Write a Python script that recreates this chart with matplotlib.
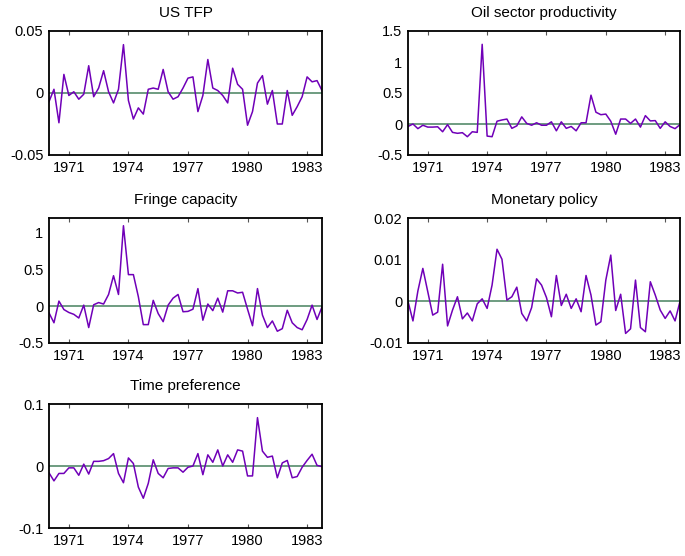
import numpy as np
import matplotlib
matplotlib.use("Agg")
import matplotlib.pyplot as plt

plt.rcParams['font.family'] = ['Liberation Sans', 'DejaVu Sans']

# quarterly dates 1970Q1 - 1983Q4
dates = 1970 + np.arange(56) * 0.25

us_tfp = [-0.007, 0.003, -0.024, 0.015, -0.002, 0.001, -0.005, -0.001, 0.022, -0.003,
          0.004, 0.018, 0.001, -0.008, 0.003, 0.039, -0.006, -0.021, -0.012, -0.017,
          0.003, 0.004, 0.003, 0.019, 0.001, -0.005, -0.003, 0.004, 0.012, 0.013,
          -0.015, -0.002, 0.027, 0.004, 0.002, -0.002, -0.008, 0.020, 0.007, 0.003,
          -0.026, -0.015, 0.008, 0.014, -0.009, 0.002, -0.025, -0.025, 0.002, -0.018,
          -0.011, -0.003, 0.013, 0.009, 0.010, 0.002]

oil_prod = [-0.04, 0.0, -0.075, -0.02, -0.05, -0.05, -0.045, -0.125, -0.01, -0.135,
            -0.15, -0.14, -0.205, -0.125, -0.135, 1.285, -0.195, -0.205, 0.045, 0.065,
            0.08, -0.07, -0.03, 0.115, 0.01, -0.02, 0.02, -0.02, -0.02, 0.035,
            -0.11, 0.035, -0.07, -0.04, -0.11, 0.02, 0.02, 0.465, 0.19, 0.15,
            0.16, 0.045, -0.165, 0.08, 0.08, 0.01, 0.08, -0.05, 0.135, 0.05,
            0.055, -0.07, 0.035, -0.04, -0.075, -0.01]

fringe_cap = [-0.09, -0.225, 0.07, -0.045, -0.085, -0.11, -0.16, 0.015, -0.29, 0.02,
              0.05, 0.03, 0.16, 0.415, 0.16, 1.095, 0.43, 0.43, 0.13, -0.25,
              -0.25, 0.08, -0.1, -0.21, 0.015, 0.11, 0.16, -0.075, -0.07, -0.04,
              0.24, -0.19, 0.03, -0.06, 0.11, -0.08, 0.21, 0.21, 0.18, 0.19,
              -0.04, -0.265, 0.24, -0.12, -0.29, -0.2, -0.34, -0.305, -0.055, -0.225,
              -0.29, -0.32, -0.18, 0.015, -0.18, -0.01]

monetary = [0.0, -0.0047, 0.0025, 0.0079, 0.0023, -0.0033, -0.0026, 0.0089, -0.0059, -0.0021,
            0.0011, -0.0042, -0.0028, -0.0047, -0.0006, 0.0006, -0.0017, 0.0039, 0.0125, 0.0101,
            0.0003, 0.0011, 0.0034, -0.0029, -0.0047, -0.0015, 0.0054, 0.0039, 0.0009, -0.0037,
            0.0062, -0.0010, 0.0017, -0.0017, 0.0006, -0.0025, 0.0062, 0.0015, -0.0057, -0.0049,
            0.0051, 0.0111, -0.0022, 0.0017, -0.0077, -0.0066, 0.0051, -0.0063, -0.0073, 0.0047,
            0.0015, -0.0021, -0.0041, -0.0023, -0.0047, 0.0]

time_pref = [-0.011, -0.024, -0.012, -0.012, -0.003, -0.003, -0.015, 0.003, -0.013, 0.0075,
             0.0075, 0.0086, 0.012, 0.020, -0.012, -0.027, 0.013, 0.004, -0.034, -0.052,
             -0.028, 0.010, -0.012, -0.019, -0.004, -0.003, -0.003, -0.010, -0.002, 0.0,
             0.020, -0.014, 0.018, 0.006, 0.026, 0.0, 0.018, 0.006, 0.026, 0.024,
             -0.016, -0.016, 0.078, 0.024, 0.014, 0.016, -0.019, 0.005, 0.009, -0.019,
             -0.017, -0.002, 0.009, 0.019, 0.001, -0.001]

titles = ['US TFP', 'Oil sector productivity', 'Fringe capacity', 'Monetary policy', 'Time preference']
series = [us_tfp, oil_prod, fringe_cap, monetary, time_pref]
ylims = [(-0.05, 0.05), (-0.5, 1.5), (-0.5, 1.2), (-0.01, 0.02), (-0.1, 0.1)]
yticks = [[-0.05, 0, 0.05], [-0.5, 0, 0.5, 1, 1.5], [-0.5, 0, 0.5, 1], [-0.01, 0, 0.01, 0.02], [-0.1, 0, 0.1]]
yticklabels = [['-0.05', '0', '0.05'], ['-0.5', '0', '0.5', '1', '1.5'], ['-0.5', '0', '0.5', '1'],
               ['-0.01', '0', '0.01', '0.02'], ['-0.1', '0', '0.1']]
years = [1971, 1974, 1977, 1980, 1983]

W, H = 685, 556
fig = plt.figure(figsize=(W / 100, H / 100), dpi=100)

# axes boxes in pixels: left, top, right, bottom
boxes = [(49, 31, 322, 155), (408, 31, 680, 155),
         (49, 218, 322, 343), (408, 218, 680, 343),
         (49, 404, 322, 528)]

for i in range(5):
    l, t, r, b = boxes[i]
    ax = fig.add_axes([l / W, 1 - b / H, (r - l) / W, (b - t) / H])
    ax.axhline(0, color='#6e9c80', lw=1.4, zorder=1)
    ax.plot(dates, series[i], color='#7000b8', lw=1.1, zorder=2)
    ax.set_xlim(1970, 1983.75)
    ax.set_ylim(*ylims[i])
    ax.set_xticks(years)
    ax.set_xticklabels([str(y) for y in years])
    ax.set_yticks(yticks[i])
    ax.set_yticklabels(yticklabels[i])
    ax.tick_params(axis='x', direction='in', length=3, top=True, labelsize=10.5, pad=4, color='#555555')
    ax.tick_params(axis='y', length=0, labelsize=10.5, pad=4)
    for s in ax.spines.values():
        s.set_linewidth(1.3)
    ax.set_title(titles[i], fontsize=11, pad=10)

fig.savefig('out.png', dpi=100)
